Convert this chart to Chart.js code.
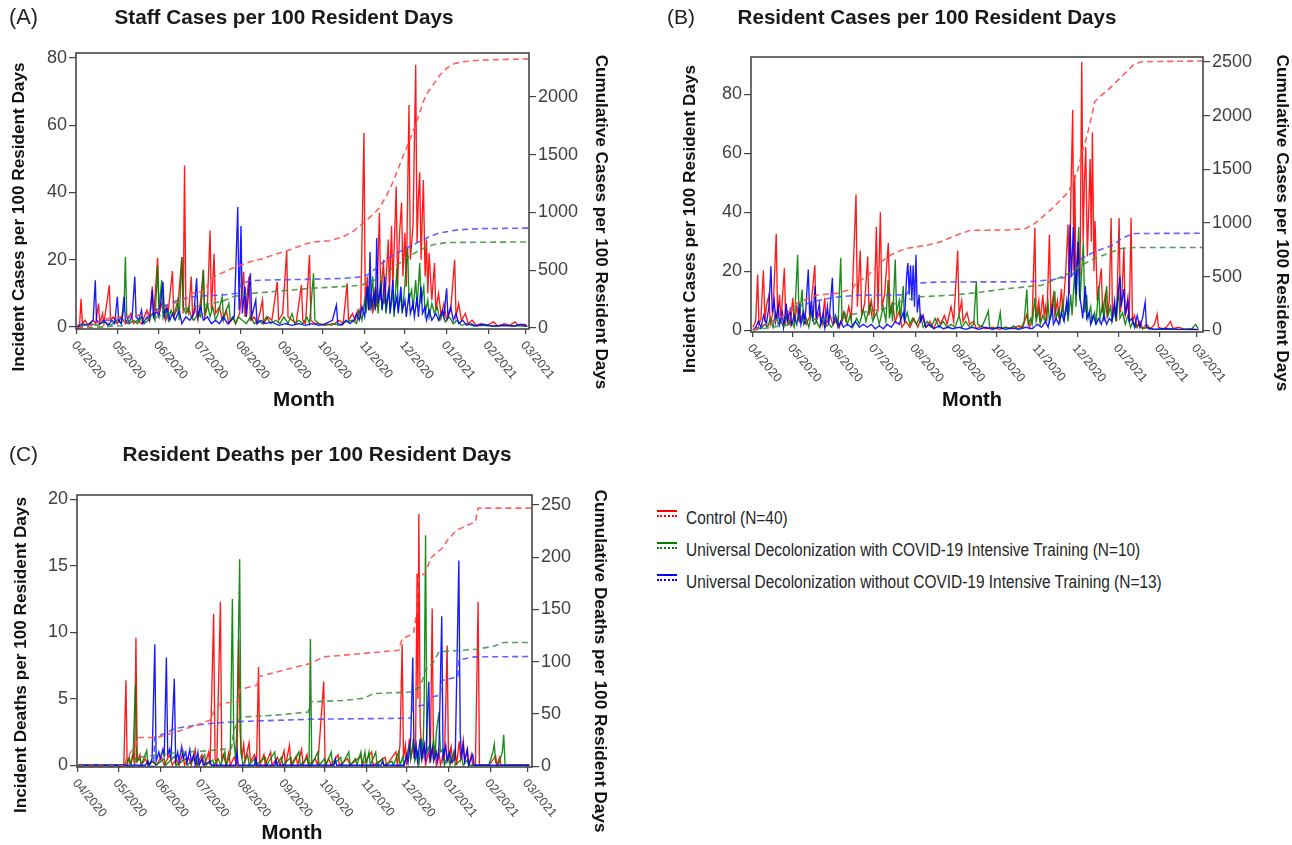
<!DOCTYPE html>
<html><head><meta charset="utf-8">
<script src="https://cdn.jsdelivr.net/npm/chart.js@4.4.1/dist/chart.umd.min.js"></script>
<style>
html,body{margin:0;padding:0;background:#fff;}
body{width:1292px;height:845px;overflow:hidden;position:relative;font-family:"Liberation Sans",Arial,sans-serif;}
canvas{position:absolute;}
.lgrow{position:absolute;left:657px;height:22px;white-space:nowrap;color:#262626;}
.lgicon{position:absolute;left:0;top:3px;width:20px;height:3px;}
.lgtext{position:absolute;left:29px;top:0;line-height:22px;transform-origin:0 50%;}
</style></head><body>
<canvas id="cA" width="640" height="430" style="left:0;top:0"></canvas>
<canvas id="cB" width="647" height="430" style="left:645px;top:0"></canvas>
<canvas id="cC" width="640" height="410" style="left:0;top:435px"></canvas>
<div id="legend"></div>
<script>
// ---------- axis / tick data ----------
const monthDays = [0,30,61,91,122,153,183,214,244,275,306,334];
const monthLabels = ['04/2020','05/2020','06/2020','07/2020','08/2020','09/2020','10/2020','11/2020','12/2020','01/2021','02/2021','03/2021'];
const ticksA = [0,20,40,60,80];
const ticksA2 = [0,500,1000,1500,2000];
const ticksB = [0,20,40,60,80];
const ticksB2 = [0,500,1000,1500,2000,2500];
const ticksC = [0,5,10,15,20];
const ticksC2 = [0,50,100,150,200,250];
const legendLabels = ['Control (N=40)','Universal Decolonization with COVID-19 Intensive Training (N=10)','Universal Decolonization without COVID-19 Intensive Training (N=13)'];

// ---------- Panel A: staff cases (day since 04/01/2020, value) ----------
const staffCtrl = [[0,0],[2,1],[3,8.4],[4,1],[6,2],[8,0.5],[12,2],[14,1],[16,7],[17,1],[19,4],[20,1],[24,12.4],[25,2],[27,3],[30,1],[33,3],[36,1],[40,4],[42,1],[45,2],[48,1],[52,5],[54,2],[56,12],[57,3],[60,20.6],[61,4],[64,8],[66,2],[68,5],[71,16.6],[72,3],[75,6],[78,20.8],[79,4],[80,48],[81,6],[83,4],[85,15],[86,3],[88,6],[90,2],[92,8],[94,17],[95,3],[97,6],[99,28.7],[100,5],[102,21.8],[103,4],[106,6],[108,2],[111,5],[113,1],[116,3],[118,1],[121,4],[124,16.4],[125,3],[128,15],[129,2],[132,3],[134,1],[136,4],[138,8],[139,1],[142,3],[145,2],[149,13.4],[150,2],[153,4],[156,22.6],[157,3],[160,2],[163,1],[167,12.5],[168,2],[170,1],[173,21.4],[174,2],[177,1],[180,1],[183,0.5],[186,1],[189,0.5],[192,1],[195,2],[198,1],[201,13],[202,2],[205,4],[207,2],[209,5],[211,3],[213.5,57.7],[214.5,6],[216,15],[217,5],[219,10],[220,4],[222,12],[223,6],[225,34],[226,8],[228,20],[229,7],[231.6,26],[232.5,10],[234,30],[235,12],[237.5,41.8],[238.5,12],[240,28],[241.5,37],[242.5,15],[244,28],[245,12],[247,66],[248,20],[250,30],[252,78],[253,25],[254,38],[255,46],[256,20],[257.7,43.7],[259,15],[260,26],[261,10],[262,22],[264,8],[266,19],[267,5],[269,10],[271,3],[273,7],[275,2],[278,5],[281,20],[282,3],[284,7],[286,2],[289,4],[291,1],[294,2],[297,0.5],[300,1],[305,0.5],[310,1.5],[313,0.3],[318,1],[322,0.5],[326,1.5],[328,0.5],[333,0.8],[335,0.3]];
const staffUDT = [[0,0],[5,0.5],[10,1],[15,0.5],[20,1.5],[25,0.5],[30,2],[33,1],[35,6],[36,20.8],[37,3],[39,1],[42,2],[45,1],[48,3],[50,1],[53,2],[56,4],[58,2],[60,18.3],[61,5],[63,14],[64,3],[66,6],[68,2],[70,5],[72,3],[75,8],[76,2],[78,20.8],[79,6],[81,4],[83,6],[85,3],[87,2],[90,4],[92,3],[94,17],[95,4],[97,7],[99,3],[101,6],[103,2],[105,4],[108,9],[109,2],[111,5],[113,7],[114,2],[116,3],[118,1],[120,3],[123,2],[126,1],[129,3],[132,1],[135,2],[138,1],[141,3],[144,1],[148,2],[151,1],[154,3],[157,1],[160,4],[162,1],[165,2],[168,1],[171,3],[173,1],[176,16],[177,2],[180,1],[185,0.5],[190,1],[195,0.5],[200,1.5],[205,2],[208,1],[210,5],[212,2],[214,8],[215,4],[217,12],[218,5],[220,15],[221,6],[223,10],[224,4],[226,14],[227,6],[229,9],[230,4],[232,12],[233,5],[235,10],[236,3],[238,17.6],[239,6],[241,9],[242,4],[244,13],[246,23.5],[247,8],[249,11],[250,5],[252,14],[253,6],[255,19],[256,7],[258,12],[259,4],[261,8],[262,3],[264,7],[266,4],[268,6],[270,2],[272,4],[274,1.5],[277,3],[280,1],[283,2],[286,0.5],[290,1],[295,0.3],[300,0.5],[310,0.3],[320,0.5],[335,0.2]];
const staffUD = [[0,0],[4,1],[8,0.5],[12,2],[13.6,13.9],[14.5,2],[17,1],[20,2],[23,0.5],[26,2],[28,1],[30,9],[31,2],[33,1],[35,9],[36,2],[38,1],[41,3],[43,15],[44,3],[46,2],[48,5],[49,1],[52,3],[54,2],[56,11],[57,3],[59,5],[61,3],[64,13.4],[65,3],[67,6],[69,2],[71,4],[73,2],[76,5],[78,1],[81,3],[84,2],[87,4],[89,14.5],[90,3],[92,6],[94,2],[97,3],[100,1],[103,2],[106,1],[109,3],[112,1],[115,2],[117,3],[119.6,35.7],[120.6,5],[122,30],[123,4],[125,12],[126,3],[129,16],[130,3],[133,8],[134,1],[137,2],[140,1],[145,1.5],[150,0.5],[155,1],[160,0.5],[165,1],[170,0.5],[175,1],[180,0.5],[185,1],[190,2],[193,6.5],[194,1],[197,0.5],[200,2],[203,1],[206,2],[208,4],[210,2],[212,6],[214,3],[216,12],[217,5],[218,22.4],[219,6],[221,10],[222,5],[223,26.5],[224,7],[226,12],[227,5],[229,15],[230,6],[232,11],[233,4],[235,14],[236,5],[238,9],[239,4],[241,12],[242,5],[244,8],[245,3],[247,10],[248,4],[250,7],[251,3],[253,9],[254,3],[256,12],[257,4],[259,6],[260,2],[262,5],[264,2],[267,4],[269,2],[272,5],[273,3],[275,11.5],[276,3],[278,6],[280,2],[282,4],[284,1],[287,2],[290,0.5],[293,1],[297,0.3],[302,0.8],[310,0.2],[318,0.5],[325,0.2],[330,0.8],[335,0.2]];
const staffCtrlCum = [[0,0],[10,20],[24,87],[36,100],[48,113],[62,156],[73,216],[80,250],[82,295],[95,318],[99,420],[103,450],[116,520],[128,570],[138,600],[148,640],[158,675],[170,727],[176,745],[188,755],[198,790],[206,840],[213,910],[219,970],[225,1040],[230,1140],[235,1260],[239,1380],[243,1500],[247,1610],[250,1700],[254,1830],[257.6,1960],[261,2040],[265,2105],[270,2190],[275,2250],[281,2290],[287,2305],[300,2320],[336,2330]];
const staffUDTCum = [[0,0],[20,10],[35,20],[37,45],[48,70],[60,95],[63,115],[78,160],[94,200],[108,230],[116,270],[130,300],[141,310],[166,335],[176,345],[200,360],[211,370],[218,400],[225,430],[230,470],[235,520],[240,560],[245,600],[250,640],[255,675],[260,700],[265,720],[275,740],[336,745]];
const staffUDCum = [[0,0],[12,30],[14,55],[30,75],[43,100],[56,140],[64,185],[74,235],[89,275],[108,285],[119,300],[122,380],[129,410],[140,415],[166,420],[200,430],[213,445],[218,470],[225,545],[235,630],[245,690],[255,750],[262,790],[269,820],[278,840],[284,850],[300,860],[336,865]];

// ---------- Panel B: resident cases ----------
const resCtrl = [[0,1],[2,3],[3.5,18.9],[4.5,2],[6,4],[7.8,20.3],[9,3],[10,8],[12,12],[13,2],[15,6],[17.5,32.6],[18.5,4],[20,12],[21,3],[23.6,21],[24.6,3],[26,6],[28,2],[30,11],[31,2],[33,8],[35,3],[38,6],[40,2],[43,5],[46.5,22],[47.5,3],[50,6],[52,2],[54,11],[55,2],[58,5],[60,2],[63,4],[65,1],[68,6],[70,3],[72,8],[74,4],[77.5,46],[78.5,8],[80.7,27],[81.7,5],[84,9],[86.3,25],[87.3,5],[89,10],[91,4],[92.8,35],[94,6],[95.8,40],[97,8],[99,12],[101.8,29.6],[103,6],[105,9],[107,3],[110,6.5],[112,1],[115,3],[118,1],[121,4],[124,1],[127,5],[130,1],[133,3],[136,0.5],[139,4],[141,2],[144,5],[146,2],[149,8],[151,3],[154,27],[155,5],[157,10],[158,3],[161,6],[163,2],[166,3],[168,0.5],[172,1.5],[175,0.5],[180,1],[185,0.3],[190,1],[195,0.5],[200,1.5],[203,1],[206,5.4],[208,1],[210,4],[212,34.7],[213,4],[215,10],[216,3],[218,12],[219,5],[220,8],[221,3],[223,32.4],[224,6],[226,12],[227,5],[229,10],[230,4],[232,14],[233,6],[235,18],[237,35.8],[238,12],[239,42.5],[240.5,74.6],[241.3,20],[242,52.7],[243,15],[244.5,30],[246,18],[247.3,91],[248.3,30],[249.3,50],[250.3,62],[251.5,25],[252.5,40],[253.6,58],[254.5,30],[255.3,67],[256.5,20],[257.3,37],[259,10],[260.5,15],[262,21],[263,6],[265,12],[266.5,4],[268,10],[269.4,38],[270.4,5],[272,8],[273.5,3],[275.4,38],[276.4,6],[277.5,12],[279,28],[280,5],[282,9],[283,3],[284.4,38],[285.4,3],[287,5],[289,1],[291,3],[293,0.5],[296,2],[299,0.5],[302,2],[304,5.4],[305,1],[308,0.5],[311,1],[314,3],[316,0.5],[320,1],[325,0.3],[330,0.5],[335,0.2]];
const resUDT = [[0,0],[3,1],[6,0.5],[9,2],[11,1],[13,4],[15,1],[17,6],[19,2],[21,3],[23,1],[25,5],[27,2],[29,3],[31,1],[33.6,25.6],[34.6,3],[37,13.8],[38,2],[40,4],[42,1],[44,6],[46,2],[48,3],[50,1],[52,4],[54,1],[57,2],[59,1],[62,3],[64,2],[66,24.5],[67,3],[69,6],[71,2],[73,5],[75,1],[78,4],[80,2],[83,7],[85,3],[88,9],[90,3],[93,6],[95,2],[98,8],[100,3],[101.6,17],[102.6,4],[104,8],[105,3],[107,24],[108,6],[110,10],[111,4],[113,15],[114,3],[116,6],[118,2],[120,4],[123,2],[126,5],[128,1],[131,3],[134,1],[137,4],[140,1],[143,3],[146,1],[149,2],[152,1],[155,5],[157,1],[160,3],[163,1],[166,2],[168,16.6],[169,2],[172,1],[174,3],[177,6.5],[178,1],[181,0.5],[184,1],[186,6],[187,0.5],[190,1],[193,0.5],[196,1.5],[199,0.5],[202,1],[204,3],[206,13.8],[207,2],[209,4],[210,2],[212,11],[213,3],[215,7],[216,2],[218,5],[220,3],[222,9],[223,3],[225,6],[227,13.3],[228,4],[230,7],[231,3],[233,9],[234,4],[236,8],[237,3],[239,12],[240,5],[242,20],[243,8],[245,35],[246,10],[248.5,30],[249.5,6],[251,12],[252,4],[254,8],[255,3],[257,6],[258,2],[260,15],[261,4],[263,9],[264,3],[266,15],[267,5],[269,8],[270,3],[272,7],[273,3],[275,14],[276,4],[278,6],[280,2],[282,5],[284,1],[286,3],[288,1],[290,2],[293,0.5],[297,1],[302,0.3],[310,0.5],[320,0.3],[330,0.5],[333,2],[335,0.5]];
const resUD = [[0,0],[2,1],[4,3],[6,1],[8,5],[10,2],[12,8],[13.5,21.7],[14.5,6],[16,10],[17,3],[19,8],[20,2],[22,6],[23,1],[25,9],[26,3],[28,7],[29,2],[31,5],[33,2],[35,8],[36,2],[38,6],[39,2],[41.6,20.6],[42.6,5],[44,10],[45,3],[46.7,15],[47.7,4],[50,9],[51,2],[53,6],[54,1],[56,8],[57,2],[59.7,17.8],[60.7,3],[62,5],[64,1],[66,3],[68,1],[71,2],[74,1],[77,3],[80,1],[83,2],[86,1],[89,2],[92,0.5],[95,1.5],[98,0.5],[101,2],[104,1],[107,3],[110,2],[113,6],[114,3],[115.5,18],[116.5,22.8],[117.5,12],[118.5,22],[119.5,10],[120.5,22],[121.5,8],[122.6,25.6],[123.6,6],[125,12],[126,3],[128,5],[130,1],[133,2],[136,0.5],[140,1.5],[143,0.5],[147,1],[150,0.5],[155,1],[160,0.3],[165,1],[170,0.3],[175,1],[180,0.3],[185,1],[190,0.3],[195,0.8],[200,0.3],[205,1],[210,0.5],[214,2],[217,1],[220,3],[222,1],[225,7.7],[226,2],[228,4],[230,2],[232,6],[234,3],[236,10],[237,5],[238.5,35.8],[239.5,18],[241,35],[242,21],[243,12],[244.6,30],[245.6,12],[247,8],[248,4],[250,15],[251,4],[253,6],[254,2],[256,5],[258,2],[260,4],[262,2],[264,5],[266,2],[268,4],[270,3],[272,10],[273,4],[274.5,12],[276,18.3],[277,8],[279,14],[280,5],[282,11],[283,3],[285,4],[287,1],[289,5],[291,1],[293,4],[295,9.5],[296,1],[298,0.5],[302,0.3],[310,0.5],[320,0.3],[335,0.2]];
const resCtrlCum = [[0,0],[3,20],[8,50],[17,90],[23,140],[30,200],[33,250],[40,290],[48,327],[65,348],[75,390],[78,450],[86,500],[90,560],[96,630],[101,685],[108,730],[116,764],[131,793],[141,824],[153,886],[163,930],[175,933],[192,935],[205,948],[212,995],[218,1060],[225,1135],[235,1260],[240,1353],[244,1480],[247,1633],[251,1800],[255,2006],[257,2130],[262,2190],[267,2240],[272,2300],[277,2363],[282,2420],[286,2473],[292,2503],[338,2510]];
const resUDTCum = [[0,0],[10,20],[20,40],[30,55],[33.6,80],[40,95],[55,110],[66,130],[80,160],[99,202],[107,250],[113,275],[124,311],[149,327],[168,350],[172,357],[192,389],[205,404],[217,420],[229,482],[240,544],[247,606],[257,669],[267,715],[277,762],[287,772],[338,772]];
const resUDCum = [[0,0],[5,30],[13.5,80],[20,120],[28,180],[33,217],[42,255],[50,280],[60,305],[78,327],[115,330],[118,380],[121,420],[123,440],[140,450],[205,452],[225,470],[235,495],[240,513],[244,580],[247,669],[252,700],[257,731],[267,777],[272,800],[277,855],[282,880],[287,902],[338,904]];

// ---------- Panel C: resident deaths ----------
const dthCtrl = [[0,0],[34,0],[35.6,6.4],[36.5,0],[38,0.6],[39,0],[41,0.8],[42,0],[43,9.6],[44,0.3],[46,0.8],[47,0],[50,0.5],[52,0],[55,0.3],[58,0],[62,0.6],[64,0],[68,0.8],[70,0],[73,0.5],[75,0],[78,1],[79,0],[82,0.6],[84,0],[87,1.2],[88,0],[92,0.8],[94,0],[97,1],[98,0],[100.7,11.4],[101.7,0.5],[103,0],[105.7,12.3],[106.7,0.4],[108,0.8],[110,0],[112,1],[113,0],[116,0.6],[118,0],[119.3,9.5],[120.3,2.6],[121.5,0.5],[123,1.6],[124,0.3],[127,1.7],[128,0.3],[131,0.8],[132.5,0],[134,7.4],[135,0],[138,0.8],[139,0],[143,1],[144,0],[148,0.6],[150,0],[153,1.1],[154,0],[157,1.5],[158,0],[162,0.7],[163,0],[166,1.2],[167,0],[170,0.8],[171,0],[176,0.5],[178,0],[182.4,6.3],[183.4,0],[186,0.5],[188,0],[193,0.8],[194,0],[200,0.5],[202,0],[210,0.7],[211,0],[218,1],[219,0],[228,0.6],[229,0],[236,1],[237,0],[239,1.5],[240.6,9.1],[241.6,0.5],[243,1.5],[244,0],[246,2],[247,0.5],[249,1.5],[250.5,0.5],[251.7,14.4],[252.3,5],[253,18.9],[254,3],[255.5,0.5],[257,1.5],[258,0],[260,1],[261.5,0.2],[262.9,11.8],[263.9,0.5],[265,1.2],[266,0],[268,1],[269,0],[271,0.8],[272,0.3],[274,9],[275,0.5],[277,1.4],[278,0.3],[280,1.2],[281,0],[283,1.8],[284,0.5],[286,1.9],[287,0.3],[289,1.2],[290,0],[292,0.8],[293,0],[295,0],[297,12.3],[298,0],[305,0],[310,0.7],[311,0],[313,0.6],[314,0],[335,0]];
const dthUDT = [[0,0],[34,0],[38,0.5],[39,0],[41,1],[42.6,6.1],[43.6,0.3],[46,0.5],[47,0],[51,1.1],[52,0],[56,0.3],[58,0],[64,0.5],[65,0],[72,0.7],[73,0],[80,0.5],[81,0],[88,0.6],[89,0],[94,0.8],[95,0],[100,0.4],[101,0],[104,0.5],[106,0],[109,1],[110,0],[113,0.8],[114.6,12.5],[115.6,2],[117,0.5],[118,3],[120,15.5],[121,1],[122.5,0],[126,0.8],[127,0],[131,0.5],[132,0],[139,0.6],[140,0],[146,1],[147,0],[151,0.6],[152,0],[158,0.6],[159,0],[164,1],[165,0],[168,0.3],[170,0.5],[171.5,0],[172.5,9.5],[173.5,0],[178,1],[179,0],[183,0.5],[184,0],[188,1],[189,0],[195,0.6],[196,0],[201,1],[202,0],[206,0.5],[207,0],[210,1],[211,0],[213,1],[214,0],[216,1],[217,0],[221,1],[222,0],[226,0.5],[227,0],[233,0.3],[234,0],[238,1],[239,0],[241,0.6],[242,0],[246,1.5],[247,0.5],[249,2],[250,0.3],[252,1],[253,0],[255,2],[256,0.5],[257,5],[258,17.3],[259,1],[261,1.5],[262,0.5],[264,1.9],[265,0.5],[266,2.5],[268,4],[269,1],[271,1.2],[272,0],[275,0.8],[276,0],[279,1],[280,0],[285,0.5],[286,0],[289,0.4],[290,0],[305,0],[308,1],[309,1.6],[310,0.2],[312,0],[315,1],[316,2.3],[317,0],[335,0]];
const dthUD = [[0,0],[34,0],[50,0],[52,0.3],[53,0],[55,0.5],[57,9.1],[58,0.3],[60,1],[61,0.5],[63,1.2],[64,0.6],[65.6,8.1],[66.6,0.8],[68,1.2],[69,0.5],[71.5,6.5],[72.5,0.3],[74,1],[75,0.3],[77,1.4],[78,0.5],[80,1],[81,0.2],[83,1.2],[84,0.3],[86,0.8],[87,0],[89,1],[90,0],[92,0.5],[93,0],[98,0.3],[99,0],[117,0],[118,1],[119,0],[131,0],[132,0.5],[133,0],[146,0],[147,0.4],[148,0],[190,0],[191,0.5],[192,0],[225,0],[226,0.3],[227,0],[242,0],[244,0.8],[245,0.2],[247,2],[248.5,8.1],[249.5,0.5],[251,1.5],[252,0.3],[254,2],[255,0.5],[257,1.5],[258,0.3],[260.4,6.3],[261.4,0.5],[263,1.3],[264,0.3],[266,1],[267,0.3],[268,1.5],[270,11.2],[271,0.5],[273,1.5],[274,0.3],[276,1],[277,0.2],[280,0.5],[282.7,15.4],[283.7,2.5],[284.7,0.5],[286,1.5],[287,0.3],[289,1.2],[290,0],[293,0.8],[294,0],[335,0]];
const dthCtrlCum = [[0,0],[35,0],[36,8],[43,20],[44,27.5],[58.7,27.5],[73.5,33],[98,44],[100.7,52],[105.7,60],[119,62],[120,73.5],[133,77.6],[134,85.6],[152.7,92],[172.5,98.4],[182.4,104.7],[212,108],[238,111],[240.6,122],[249,127],[251.7,150],[253,181],[258,185],[261.6,199],[271.5,210],[274,216],[281,226],[295,234],[297,247],[337,247]];
const dthUDTCum = [[0,0],[42,0],[42.6,8],[56,10.5],[73.5,13],[98,15],[114,17],[115.6,34.5],[120.5,47],[147.8,49],[171,52],[172.5,61.6],[197,63],[212,65],[219.6,69.6],[246.8,71],[254,76],[258,92],[264,100],[268,109.5],[296,112],[309,115],[316,118.5],[337,118.5]];
const dthUDCum = [[0,0],[56,0],[57,28],[65.6,32],[71.5,36],[86,39],[98,41],[123,43],[172.5,45],[247,46],[248.5,57],[259,59],[260.4,66],[269,68],[270,82],[282,85.6],[282.7,101.6],[293.8,104.7],[337,105]];

// ---------- styling ----------
const FAM = '"Liberation Sans", Arial, Helvetica, sans-serif';
const incColors = ['rgba(255,0,0,0.9)','rgba(0,128,0,0.9)','rgba(0,0,255,0.9)'];
const cumColors = ['rgba(255,80,80,0.9)','rgba(60,140,60,0.85)','rgba(70,70,255,0.85)'];
const legendIconColors = ['#ff0000','#008000','#0000ff'];

function pts(a){ return a.map(p => ({x:p[0], y:p[1]})); }

function drawFit(ctx, txt, cx, cy, width, weight, rot, color){
  ctx.save();
  ctx.font = weight + ' 20px ' + FAM;
  const w = ctx.measureText(txt).width;
  const size = 20 * width / w;
  ctx.font = weight + ' ' + size.toFixed(2) + 'px ' + FAM;
  ctx.translate(cx, cy); ctx.rotate(rot);
  ctx.textAlign = 'center'; ctx.textBaseline = 'middle';
  ctx.fillStyle = color; ctx.fillText(txt, 0, 0);
  ctx.restore();
}

function makeDeco(t){
  return {
    id: 'deco',
    afterDraw(chart){
      const ctx = chart.ctx, a = chart.chartArea, xs = chart.scales.x;
      ctx.save();
      ctx.strokeStyle = '#3a3a3a'; ctx.lineWidth = 1.5;
      ctx.strokeRect(a.left, a.top, a.right - a.left, a.bottom - a.top);
      ctx.fillStyle = '#4a4a4a';
      ctx.font = '12.5px ' + FAM;
      ctx.textAlign = 'left'; ctx.textBaseline = 'middle';
      monthDays.forEach((d, i) => {
        const px = xs.getPixelForValue(d);
        ctx.save();
        ctx.translate(px - 3, a.bottom + 14);
        ctx.rotate(50 * Math.PI / 180);
        ctx.fillText(monthLabels[i], 0, 0);
        ctx.restore();
      });
      ctx.restore();
      drawFit(ctx, t.letter[0], t.letter[1], t.letter[2], t.letter[3], 'normal', 0, '#222');
      drawFit(ctx, t.title[0], t.title[1], t.title[2], t.title[3], 'bold', 0, '#1a1a1a');
      drawFit(ctx, t.yl[0], t.yl[1], t.yl[2], t.yl[3], 'bold', -Math.PI/2, '#111');
      drawFit(ctx, t.yr[0], t.yr[1], t.yr[2], t.yr[3], 'bold', Math.PI/2, '#111');
      drawFit(ctx, 'Month', t.month[0], t.month[1], t.month[2], 'bold', 0, '#111');
    }
  };
}

function buildChart(id, p){
  const inc = [p.ctrl, p.udt, p.ud];
  const cum = [p.ctrlCum, p.udtCum, p.udCum];
  const datasets = [];
  const incOrder = [3, 2, 1];
  inc.forEach((d, i) => datasets.push({
    data: pts(d), yAxisID: 'y', borderColor: incColors[i], borderWidth: 1.35,
    pointRadius: 0, tension: 0, order: incOrder[i], fill: false
  }));
  cum.forEach((d, i) => datasets.push({
    data: pts(d), yAxisID: 'y2', borderColor: cumColors[i], borderWidth: 1.6,
    borderDash: [6, 4], pointRadius: 0, tension: 0, order: 0, fill: false
  }));
  const tickFont = {family: FAM, size: 18};
  return new Chart(document.getElementById(id), {
    type: 'line',
    data: {datasets},
    options: {
      responsive: false, animation: false, events: [],
      layout: {padding: {top: p.padTop, left: 0, right: 0, bottom: 0}},
      plugins: {legend: {display: false}, tooltip: {enabled: false}, title: {display: false}},
      scales: {
        x: {
          type: 'linear', min: p.xMin, max: p.xMax,
          afterBuildTicks: s => { s.ticks = monthDays.map(v => ({value: v})); },
          afterFit: s => { s.height = p.xH; },
          ticks: {display: false},
          grid: {display: true, drawOnChartArea: false, drawTicks: true, tickLength: 5, color: '#444', lineWidth: 1.2},
          border: {display: false}
        },
        y: {
          type: 'linear', position: 'left', min: p.yMin, max: p.yMax,
          afterBuildTicks: s => { s.ticks = p.yTicks.map(v => ({value: v})); },
          afterFit: s => { s.width = p.yW; },
          ticks: {color: '#404040', font: tickFont, padding: 2, callback: v => String(v)},
          grid: {drawOnChartArea: false, drawTicks: true, tickLength: 7, color: '#444', lineWidth: 1.2},
          border: {display: false}
        },
        y2: {
          type: 'linear', position: 'right', min: p.y2Min, max: p.y2Max,
          afterBuildTicks: s => { s.ticks = p.y2Ticks.map(v => ({value: v})); },
          afterFit: s => { s.width = p.y2W; },
          ticks: {color: '#404040', font: tickFont, padding: 2, callback: v => String(v)},
          grid: {drawOnChartArea: false, drawTicks: true, tickLength: 7, color: '#444', lineWidth: 1.2},
          border: {display: false}
        }
      }
    },
    plugins: [makeDeco(p.texts)]
  });
}

buildChart('cA', {
  ctrl: staffCtrl, udt: staffUDT, ud: staffUD,
  ctrlCum: staffCtrlCum, udtCum: staffUDTCum, udCum: staffUDCum,
  xMin: -0.75, xMax: 336.3, yMin: -0.6, yMax: 81.5, y2Min: -9, y2Max: 2381,
  yTicks: ticksA, y2Ticks: ticksA2, padTop: 53, yW: 76, y2W: 111, xH: 101,
  texts: {letter: ['(A)', 23.5, 18, 29], title: ['Staff Cases per 100 Resident Days', 284, 18, 339],
    yl: ['Incident Cases per 100 Resident Days', 19, 217, 309], yr: ['Cumulative Cases per 100 Resident Days', 601, 222, 335],
    month: [304, 400, 62]}
});
buildChart('cB', {
  ctrl: resCtrl, udt: resUDT, ud: resUD,
  ctrlCum: resCtrlCum, udtCum: resUDTCum, udCum: resUDCum,
  xMin: -1.5, xMax: 338.5, yMin: -0.6, yMax: 92.6, y2Min: -16, y2Max: 2547,
  yTicks: ticksB, y2Ticks: ticksB2, padTop: 57, yW: 106, y2W: 89, xH: 98,
  texts: {letter: ['(B)', 36, 18, 28], title: ['Resident Cases per 100 Resident Days', 282, 18, 379],
    yl: ['Incident Cases per 100 Resident Days', 45, 219, 308], yr: ['Cumulative Cases per 100 Resident Days', 637, 223, 337],
    month: [327, 400, 60]}
});
buildChart('cC', {
  ctrl: dthCtrl, udt: dthUDT, ud: dthUD,
  ctrlCum: dthCtrlCum, udtCum: dthUDTCum, udCum: dthUDCum,
  xMin: -0.74, xMax: 337, yMin: -0.13, yMax: 20.33, y2Min: -0.7, y2Max: 259.6,
  yTicks: ticksC, y2Ticks: ticksC2, padTop: 60, yW: 77, y2W: 108, xH: 78,
  texts: {letter: ['(C)', 23.5, 20, 29], title: ['Resident Deaths per 100 Resident Days', 317, 20, 389],
    yl: ['Incident Deaths per 100 Resident Days', 21, 220, 316], yr: ['Cumulative Deaths per 100 Resident Days', 600, 226, 343],
    month: [292, 398, 61]}
});

// ---------- legend (HTML text, condensed to match) ----------
(function(){
  const lg = document.getElementById('legend');
  const c = document.createElement('canvas').getContext('2d');
  const fs = 17.5;
  c.font = fs + 'px ' + FAM;
  const longest = c.measureText(legendLabels[2]).width;
  const sx = 476 / longest;
  legendLabels.forEach((txt, i) => {
    const row = document.createElement('div');
    row.className = 'lgrow';
    row.style.top = (507 + i * 32) + 'px';
    const ic = document.createElement('div');
    ic.className = 'lgicon';
    ic.style.borderTop = '2px solid ' + legendIconColors[i];
    ic.style.borderBottom = '2px dotted ' + legendIconColors[i];
    const tx = document.createElement('div');
    tx.className = 'lgtext';
    tx.style.fontSize = fs + 'px';
    tx.style.transform = 'scaleX(' + sx.toFixed(4) + ')';
    tx.textContent = txt;
    row.appendChild(ic); row.appendChild(tx);
    lg.appendChild(row);
  });
})();
</script>
</body></html>
